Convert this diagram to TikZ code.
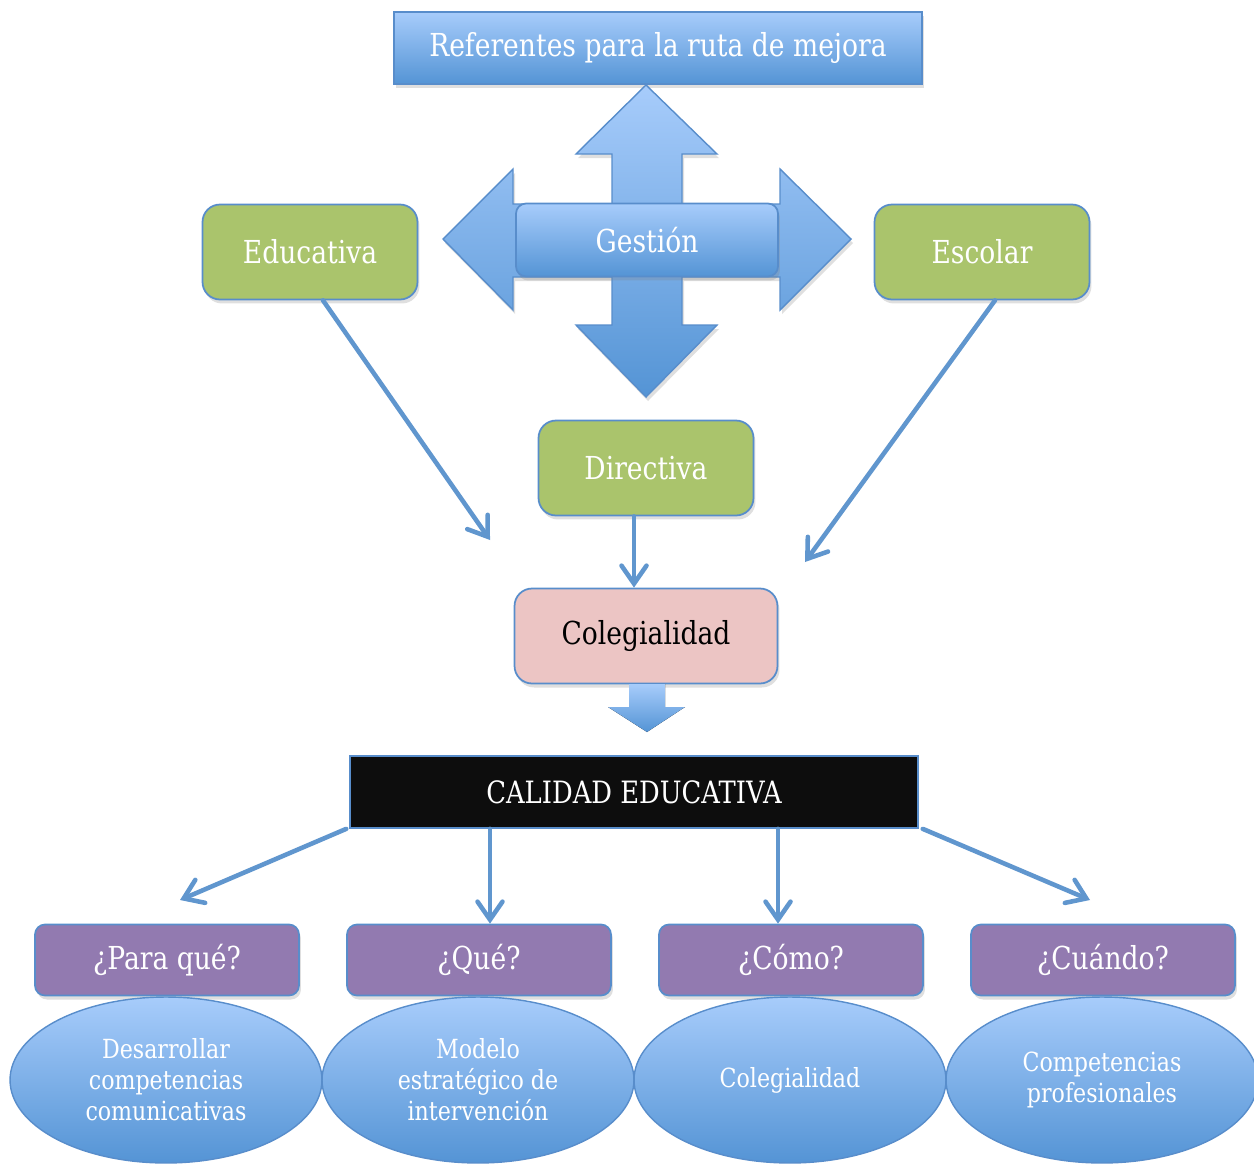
\documentclass[tikz,border=0pt]{standalone}
\usepackage{fontspec}
\setmainfont{DejaVu Serif}[FakeStretch=0.84]
\usetikzlibrary{arrows.meta, shapes.geometric, shadows, calc}

\definecolor{boxblue}{RGB}{88,141,203}
\definecolor{lineblue}{RGB}{96,150,206}
\definecolor{skytop}{RGB}{167,204,251}
\definecolor{skybot}{RGB}{84,148,213}
\definecolor{leafgreen}{RGB}{170,196,108}
\definecolor{rosepink}{RGB}{236,197,196}
\definecolor{lilac}{RGB}{146,122,176}
\definecolor{nearblack}{RGB}{13,13,13}

\tikzset{
    softshadow/.style={drop shadow={opacity=0.25, shadow xshift=0.04cm, shadow yshift=-0.08cm}},
    skybox/.style={draw=boxblue, line width=1pt, top color=skytop, bottom color=skybot,
        text=white, font=\fontsize{18}{21}\selectfont, softshadow},
    leafbox/.style={draw=boxblue, line width=1pt, fill=leafgreen, rounded corners=0.35cm,
        text=white, font=\fontsize{18}{21}\selectfont, minimum width=4.3cm, minimum height=1.9cm, softshadow},
    lilacbox/.style={draw=boxblue, line width=1pt, fill=lilac, rounded corners=0.2cm,
        text=white, font=\fontsize{18}{21}\selectfont, minimum width=5.28cm, minimum height=1.42cm, softshadow},
    answer/.style={ellipse, draw=boxblue, line width=0.8pt, top color=skytop, bottom color=skybot,
        text=white, align=center, font=\fontsize{15}{17.6}\selectfont,
        minimum width=6.24cm, minimum height=3.32cm, inner sep=0pt},
    link/.style={draw=lineblue, line width=2.6pt, line cap=round,
        -{Straight Barb[length=0.36cm, width=0.5cm, line cap=round]}},
}

\begin{document}
\begin{tikzpicture}[x=0.02cm, y=-0.02cm]
    \useasboundingbox (0,0) rectangle (1254,1163);

    % referentes
    \node[skybox, minimum width=10.56cm, minimum height=1.44cm] (refs) at (658,48) {Referentes para la ruta de mejora};

    % cross of block arrows
    \draw[boxblue, line width=0.8pt, top color=skytop, bottom color=skybot, softshadow]
        (646,85) -- (717,154) -- (682,154) -- (682,204) -- (780,204) -- (780,169) -- (851,239)
        -- (780,310) -- (780,277) -- (682,277) -- (682,325) -- (717,325) -- (646,397)
        -- (576,325) -- (612,325) -- (612,277) -- (513,277) -- (513,310) -- (443,239)
        -- (513,169) -- (513,204) -- (612,204) -- (612,154) -- (576,154) -- cycle;
    \node[skybox, rounded corners=0.2cm, minimum width=5.24cm, minimum height=1.46cm] (gest) at (647,240) {Gestión};

    % gestion kinds
    \node[leafbox] (educ) at (310,252) {Educativa};
    \node[leafbox] (esco) at (982,252) {Escolar};
    \node[leafbox] (dire) at (646,468) {Directiva};
    \node[leafbox, fill=rosepink, text=black, minimum width=5.26cm] (coleg) at (646,636) {Colegialidad};

    \coordinate (gapL) at (490,540);
    \coordinate (gapR) at (805,562);
    \draw[link] ([xshift=0.26cm]educ.south) -- (gapL);
    \draw[link] ([xshift=0.26cm]esco.south) -- (gapR);
    \draw[link] ([xshift=-0.24cm]dire.south) -- ([xshift=-0.24cm]coleg.north);

    % block arrow down
    \fill[top color=skytop, bottom color=skybot]
        (629,684) -- (665,684) -- (665,707) -- (685,707) -- (647,732) -- (608,707) -- (629,707) -- cycle;

    \node[draw=boxblue, line width=1pt, fill=nearblack, text=white, font=\fontsize{17.5}{20}\selectfont,
        minimum width=11.36cm, minimum height=1.44cm] (calid) at (634,792) {CALIDAD EDUCATIVA};

    % questions
    \node[lilacbox] (para) at (167,960) {¿Para qué?};
    \node[lilacbox] (que) at (479,960) {¿Qué?};
    \node[lilacbox] (como) at (791,960) {¿Cómo?};
    \node[lilacbox] (cuan) at (1103,960) {¿Cuándo?};

    \node[answer] (ans1) at (166,1080) {Desarrollar\\competencias\\comunicativas};
    \node[answer] (ans2) at (478,1080) {Modelo\\estratégico de\\intervención};
    \node[answer] (ans3) at (790,1080) {Colegialidad};
    \node[answer] (ans4) at (1102,1080) {Competencias\\profesionales};

    \coordinate (farL) at (180,900);
    \coordinate (farR) at (1090,900);
    \draw[link] ([xshift=-0.06cm]calid.south west) -- (farL);
    \draw[link] ([xshift=0.22cm]que.north |- calid.south) -- ([xshift=0.22cm]que.north);
    \draw[link] ([xshift=-0.26cm]como.north |- calid.south) -- ([xshift=-0.26cm]como.north);
    \draw[link] ([xshift=0.08cm]calid.south east) -- (farR);

\end{tikzpicture}
\end{document}
